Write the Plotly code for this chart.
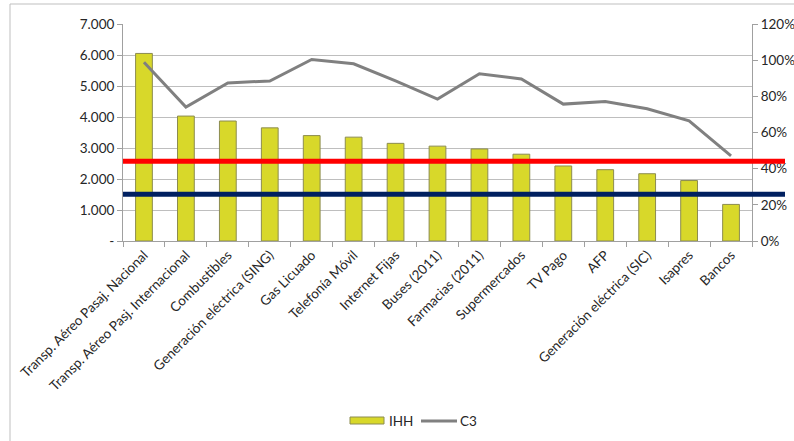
import plotly.graph_objects as go

categories = ["Transp. Aéreo Pasaj. Nacional", "Transp. Aéreo Pasj. Internacional", "Combustibles",
              "Generación eléctrica (SING)", "Gas Licuado", "Telefonía Móvil", "Internet Fijas",
              "Buses (2011)", "Farmacias (2011)", "Supermercados", "TV Pago", "AFP",
              "Generación eléctrica (SIC)", "Isapres", "Bancos"]
ihh = [6050, 4030, 3870, 3650, 3400, 3350, 3150, 3060, 2970, 2800, 2420, 2300, 2170, 1950, 1180]
c3 = [0.988, 0.741, 0.874, 0.885, 1.004, 0.980, 0.885, 0.785, 0.925, 0.896, 0.757, 0.772, 0.731, 0.665, 0.471]
red_threshold = 2575
blue_threshold = 1510
left_ticks = [0, 1000, 2000, 3000, 4000, 5000, 6000, 7000]
left_ticktext = ["-", "1.000", "2.000", "3.000", "4.000", "5.000", "6.000", "7.000"]
right_ticks = [0, 0.2, 0.4, 0.6, 0.8, 1.0, 1.2]
right_ticktext = ["0%", "20%", "40%", "60%", "80%", "100%", "120%"]

FONT = "Lato"
FS = 13.5
BAR_COLOR = "#D8D82A"
BAR_EDGE = "#8C8C50"
LINE_COLOR = "#808080"

W, H = 794, 441
L, R, T, B = 123, 42, 24, 200
PW, PH = W - L - R, H - T - B


def px(x):
    return (x - L) / PW


def py(y):
    return (H - B - y) / PH


fig = go.Figure()
fig.add_trace(go.Bar(x=categories, y=ihh, name="IHH", width=0.4, showlegend=False,
                     marker=dict(color=BAR_COLOR, line=dict(color=BAR_EDGE, width=1))))
fig.add_trace(go.Scatter(x=categories, y=c3, name="C3", yaxis="y2", mode="lines", showlegend=False,
                         line=dict(color=LINE_COLOR, width=3)))

# Threshold lines (drawn across plot and slightly beyond right axis)
for val, col in [(red_threshold, "#FF0000"), (blue_threshold, "#002060")]:
    fig.add_shape(type="line", xref="paper", yref="y", x0=0, x1=px(785), y0=val, y1=val,
                  line=dict(color=col, width=5), layer="above")

# outer frame
fig.add_shape(type="line", xref="paper", yref="paper", x0=px(10), x1=px(10), y0=py(4), y1=py(460),
              line=dict(color="#BFBFBF", width=1))
fig.add_shape(type="line", xref="paper", yref="paper", x0=px(10), x1=px(810), y0=py(4), y1=py(4),
              line=dict(color="#BFBFBF", width=1))

# custom legend
fig.add_shape(type="rect", xref="paper", yref="paper", x0=px(350), x1=px(384), y0=py(424), y1=py(417),
              fillcolor=BAR_COLOR, line=dict(color=BAR_EDGE, width=1))
fig.add_annotation(xref="paper", yref="paper", x=px(387), y=py(420.5), text="IHH", showarrow=False,
                   xanchor="left", yanchor="middle", font=dict(size=FS, family=FONT, color="#262626"))
fig.add_shape(type="line", xref="paper", yref="paper", x0=px(421), x1=px(457), y0=py(421), y1=py(421),
              line=dict(color=LINE_COLOR, width=3))
fig.add_annotation(xref="paper", yref="paper", x=px(458), y=py(420.5), text="C3", showarrow=False,
                   xanchor="left", yanchor="middle", font=dict(size=FS, family=FONT, color="#262626"))

fig.update_layout(
    width=W, height=H,
    margin=dict(l=L, r=R, t=T, b=B, autoexpand=False),
    paper_bgcolor="white", plot_bgcolor="white",
    font=dict(family=FONT, size=FS, color="#262626"),
    showlegend=False,
    xaxis=dict(type="category", tickangle=-45, tickson="boundaries", ticks="outside",
               ticklen=5, tickcolor="#A0A0A0", showline=True, linecolor="#A0A0A0",
               showgrid=False, automargin=False, tickfont=dict(size=FS, family=FONT)),
    yaxis=dict(range=[0, 7000], tickvals=left_ticks, ticktext=left_ticktext,
               showgrid=True, gridcolor="#BEBEBE", gridwidth=1, automargin=False,
               showline=True, linecolor="#A0A0A0", ticks="outside", ticklen=5,
               tickcolor="#A0A0A0", zeroline=False, tickfont=dict(size=FS, family=FONT)),
    yaxis2=dict(range=[0, 1.2], tickvals=right_ticks, ticktext=right_ticktext,
                overlaying="y", side="right", showgrid=False, showline=True, automargin=False,
                linecolor="#A0A0A0", ticks="outside", ticklen=5, tickcolor="#A0A0A0",
                zeroline=False, tickfont=dict(size=FS, family=FONT)),
)

fig.write_html("out.html")
